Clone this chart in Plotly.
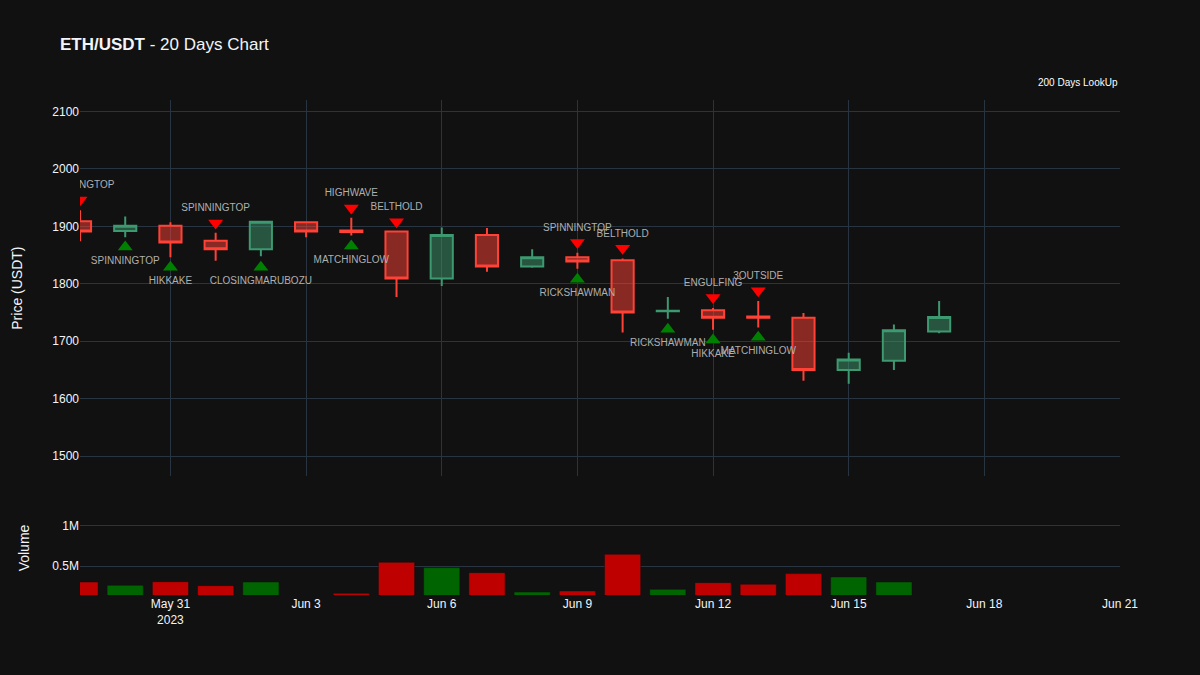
import plotly.graph_objects as go
from plotly.subplots import make_subplots

dates = ["2023-05-29", "2023-05-30", "2023-05-31", "2023-06-01", "2023-06-02",
         "2023-06-03", "2023-06-04", "2023-06-05", "2023-06-06", "2023-06-07",
         "2023-06-08", "2023-06-09", "2023-06-10", "2023-06-11", "2023-06-12",
         "2023-06-13", "2023-06-14", "2023-06-15", "2023-06-16", "2023-06-17"]
opens = [1909, 1892, 1901, 1875, 1860, 1907, 1893, 1891, 1809, 1885,
         1830, 1846, 1841, 1752, 1754, 1743, 1741, 1650, 1666, 1717]
highs = [1928, 1917, 1907, 1889, 1909, 1908, 1915, 1892, 1898, 1897,
         1860, 1854, 1844, 1777, 1758, 1770, 1749, 1680, 1729, 1770]
lows = [1874, 1881, 1846, 1840, 1848, 1881, 1884, 1777, 1796, 1821,
        1828, 1826, 1715, 1739, 1720, 1724, 1631, 1626, 1650, 1714]
closes = [1891, 1901, 1872, 1860, 1908, 1891, 1890, 1809, 1885, 1830,
          1846, 1839, 1750, 1753, 1741, 1741, 1650, 1668, 1719, 1742]
volumes = [307000, 266000, 311000, 262000, 307000, 140000, 168000, 549000, 484000, 422000,
           184000, 197000, 648000, 217000, 299000, 279000, 410000, 369000, 307000, 100000]

bear_dates = ["2023-05-29", "2023-06-01", "2023-06-04", "2023-06-05",
              "2023-06-09", "2023-06-10", "2023-06-12", "2023-06-13"]
bear_levels = [1946, 1906, 1932, 1908, 1872, 1862, 1776, 1788]
bear_names = ["SPINNINGTOP", "SPINNINGTOP", "HIGHWAVE", "BELTHOLD",
              "SPINNINGTOP", "BELTHOLD", "ENGULFING", "3OUTSIDE"]

bull_dates = ["2023-05-30", "2023-05-31", "2023-06-02", "2023-06-04",
              "2023-06-09", "2023-06-11", "2023-06-12", "2023-06-13"]
bull_levels = [1864, 1829, 1829, 1866, 1808, 1721, 1702, 1707]
bull_names = ["SPINNINGTOP", "HIKKAKE", "CLOSINGMARUBOZU", "MATCHINGLOW",
              "RICKSHAWMAN", "RICKSHAWMAN", "HIKKAKE", "MATCHINGLOW"]

FONT = "Liberation Sans, Arial, sans-serif"

fig = make_subplots(rows=2, cols=1, shared_xaxes=True,
                    row_heights=[0.8, 0.2], vertical_spacing=0.05)

fig.add_trace(go.Candlestick(x=dates, open=opens, high=highs, low=lows, close=closes,
                             name="ETH/USDT", showlegend=False), row=1, col=1)

fig.add_trace(go.Scatter(x=bear_dates, y=bear_levels, text=bear_names,
                         mode="markers+text", textposition="top center",
                         marker=dict(symbol="triangle-down", color="red", size=13),
                         textfont=dict(color="rgb(175,175,175)", size=10, family=FONT),
                         showlegend=False), row=1, col=1)

fig.add_trace(go.Scatter(x=bull_dates, y=bull_levels, text=bull_names,
                         mode="markers+text", textposition="bottom center",
                         marker=dict(symbol="triangle-up", color="green", size=13),
                         textfont=dict(color="rgb(175,175,175)", size=10, family=FONT),
                         showlegend=False), row=1, col=1)

vol_colors = ["rgb(0,100,0)" if c >= o else "rgb(190,0,0)" for o, c in zip(opens, closes)]
fig.add_trace(go.Bar(x=dates, y=volumes, marker=dict(color=vol_colors),
                     showlegend=False, name="Volume"), row=2, col=1)

fig.update_layout(
    template="plotly_dark",
    width=1200, height=675,
    font=dict(family=FONT),
    title=dict(text="<b>ETH/USDT</b> - 20 Days Chart", font=dict(size=17)),
    margin=dict(l=80, r=80, t=100, b=80),
    showlegend=False,
    xaxis_rangeslider_visible=False,
    annotations=[dict(text="200 Days LookUp", xref="paper", yref="paper",
                      x=1, y=1.02, xanchor="right", yanchor="bottom",
                      showarrow=False, font=dict(size=10, color="white"))],
)

fig.update_xaxes(range=["2023-05-29", "2023-06-21"], dtick=3 * 86400000,
                 tick0="2023-05-31")
fig.update_xaxes(showgrid=False, row=2, col=1)
fig.update_yaxes(title=dict(text="Price (USDT)", standoff=26), automargin=False,
                 range=[1465, 2120], dtick=100, row=1, col=1)
fig.update_yaxes(title=dict(text="Volume", standoff=19), automargin=False,
                 range=[147000, 1303000], dtick=500000, tick0=0, row=2, col=1)

fig.write_html("out.html")
